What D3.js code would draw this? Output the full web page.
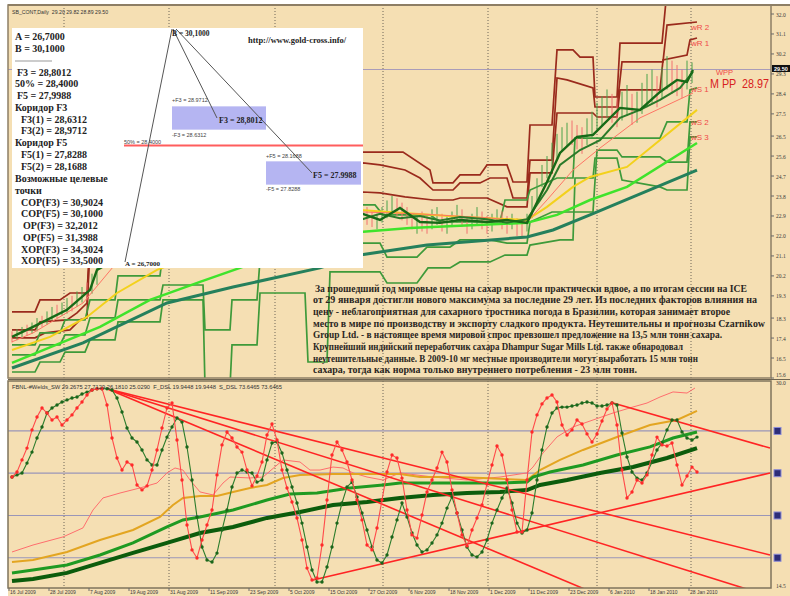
<!DOCTYPE html>
<html><head><meta charset="utf-8">
<script src="https://cdn.jsdelivr.net/npm/d3@7"></script>
<style>body{margin:0;background:#fff;} svg{display:block;} text{white-space:pre;}</style>
</head><body>
<svg id="c" width="790" height="596"></svg>
<script>
// ---------------- DATA ----------------
const topTicks = [32.0,31.1,30.2,29.3,28.4,27.5,26.5,25.6,24.7,23.8,22.9,22.0,21.1,20.2,19.3,18.3,17.4,16.5,15.6];
const lastClose = 29.50;
const dateTicks = [[0,"16 Jul 2009"],[8,"28 Jul 2009"],[16,"7 Aug 2009"],[24,"19 Aug 2009"],[32,"31 Aug 2009"],[40,"11 Sep 2009"],[48,"23 Sep 2009"],[56,"5 Oct 2009"],[64,"15 Oct 2009"],[72,"27 Oct 2009"],[80,"6 Nov 2009"],[88,"18 Nov 2009"],[96,"1 Dec 2009"],[104,"11 Dec 2009"],[112,"23 Dec 2009"],[120,"6 Jan 2010"],[128,"18 Jan 2010"],[136,"28 Jan 2010"]];
const gridBars = [10.4,31.4,52.6,74.2,95.2,117,135.8];

// top panel moving averages [bar, price]
const maTeal = [[0,16.05],[14.2,17.18],[31,18.98],[44.2,19.70],[61.6,20.56],[69.6,21.14],[83,21.59],[103,21.95],[108.2,22.27],[115.6,22.95],[137,24.97]];
const maLime = [[0,16.28],[17.6,17.90],[27.6,19.12],[37.6,19.93],[45.6,20.56],[57.6,21.59],[69.6,22.18],[79.6,22.36],[103,22.59],[109,22.95],[115.6,23.62],[123,24.21],[137,26.19]];
const maYellow = [[0,16.86],[7.6,17.45],[15,18.35],[21,19.43],[29,20.47],[47.6,22.05],[69.6,23.17],[77.6,23.04],[89.6,22.86],[103,22.72],[107,23.31],[112.2,24.21],[115.6,24.66],[123,25.11],[137,27.68]];
const maThinRed = [[0,17.23],[4.2,17.63],[14.2,18.98],[20.2,20.60],[37.6,22.05],[70.2,23.08],[81.6,22.99],[95.6,22.81],[103,22.63],[107,23.62],[112.2,24.97],[117.6,25.96],[125.6,27.32],[136.2,28.44]];
const priceLine = [[0,17.45],[4.2,17.90],[11,18.67],[15.6,19.57],[17,20.47],[27.6,21.82],[47.6,22.72],[61.6,22.95],[69.6,23.04],[73.6,22.72],[77.6,23.26],[81.6,22.63],[85.6,22.59],[89.6,22.72],[95,22.63],[99,22.72],[103,22.59],[107,24.43],[109.6,25.74],[113,26.46],[116.2,26.55],[121.6,27.77],[125.6,27.68],[129.6,28.49],[133,29.03],[135,28.94],[136.2,29.48]];
const priceLine2 = [[69.6,22.72],[73.6,23.0],[77.6,22.8],[81.6,22.9],[85.6,22.7],[89.6,22.85],[95,22.75],[99,22.6],[103,22.75],[107,24.07],[109.6,25.2],[113.6,25.87],[117.6,26.32],[121.6,27.32],[125.6,27.68],[129.6,28.13],[133.6,28.67],[136.2,29.39]];

// weekly pivot step lines [bar, price]
const maroonR3 = [[0,18.58],[4.6,18.58],[5.6,19.12],[9.6,19.12],[11.6,19.43],[15,19.43],[15.4,21.0],[30,22.2],[50,23.5],[70.2,25.78],[78.2,25.78],[83.6,24.97],[84.2,24.39],[88.2,24.39],[89.6,24.75],[93.6,24.75],[95,25.20],[99,25.20],[100.2,24.43],[103,24.43],[103.6,27.00],[108,27.00],[109,30.38],[112.2,30.38],[113.6,30.06],[116.2,30.06],[116.6,28.26],[121,28.26],[121.6,30.69],[130,30.69],[130.8,32.6],[137,32.7]];
const maroonR2 = [[0,17.77],[4.6,17.77],[5.6,18.13],[11,18.22],[13,18.53],[15,18.98],[15.4,20.8],[30,21.8],[50,22.9],[70.2,25.29],[73.6,25.20],[78.6,24.97],[81.6,24.61],[84.2,24.07],[88.2,24.07],[89.6,24.39],[93.6,24.39],[95.6,24.61],[99,24.61],[100.2,23.71],[103,23.71],[103.6,25.42],[108,25.42],[109,29.12],[111,29.03],[116.2,28.67],[116.6,27.81],[121,27.81],[122,29.84],[130.2,29.84],[131,31.50],[137,31.64]];
const maroonR1 = [[0,17.41],[4.6,17.41],[6.6,17.63],[11.6,17.77],[13.6,18.22],[15,18.31],[15.4,20.7],[30,21.5],[50,22.6],[70.2,23.98],[73.6,23.94],[78.6,23.76],[84.2,23.62],[88.2,23.62],[89.6,23.71],[95,23.71],[99,23.31],[103,23.31],[103.6,24.84],[108,24.84],[109,27.54],[116.2,27.54],[117,27.36],[121,27.36],[121.6,28.58],[129.6,28.58],[130.2,29.93],[135,30.15],[135.6,30.83],[137,30.92]];
const greenS1 = [[0,17.09],[4.6,17.09],[5.6,17.63],[9.6,17.63],[10.6,18.22],[14.6,18.22],[15.6,19.12],[20.6,19.12],[21.2,20.20],[29.6,20.20],[30.2,21.3],[50,22.4],[70.2,23.40],[72.6,23.40],[74.2,22.95],[83.6,22.95],[85.6,22.63],[97.6,22.63],[98.6,23.62],[103,23.62],[103.6,24.07],[109,24.61],[112.2,24.61],[112.6,26.41],[129.6,26.41],[131,27.14],[135,27.14],[135.6,28.58],[137,28.67]];
const greenS2 = [[0,16.64],[4.6,16.64],[5.6,17.09],[9.6,17.09],[10.6,17.54],[14.6,17.54],[15.6,18.31],[20.6,18.31],[21.2,19.12],[29.6,19.12],[30.2,19.79],[38.2,19.79],[38.6,17.77],[43.6,17.77],[44,19.12],[49,19.12],[49.6,20.9],[63,21.2],[70.2,21.68],[73.6,21.68],[75,21.05],[81,21.05],[83,21.50],[87.6,21.50],[89.6,21.82],[95.6,21.82],[99,21.68],[103,21.68],[103.6,22.63],[108,23.08],[116.2,23.08],[117,25.87],[121,25.87],[122,25.56],[129.6,25.56],[131,25.33],[135,25.33],[135.6,27.14],[137,27.14]];
const greenS3 = [[0,15.87],[4.6,15.87],[5.6,16.32],[9.6,16.32],[10.6,16.77],[14.6,16.77],[15.6,17.32],[20.6,17.32],[21.2,18.13],[29.6,18.13],[30.2,19.12],[38.2,19.12],[38.6,15.2],[43.6,15.2],[44,17.09],[49,17.09],[49.6,19.43],[58.6,19.43],[59.2,16.32],[63,16.32],[63.6,20.38],[73.6,20.38],[75,19.88],[81,19.88],[83.2,20.56],[87.6,20.56],[89.6,20.83],[95.6,20.83],[98.6,21.14],[103,21.14],[103.6,21.59],[109.6,21.82],[112.2,21.82],[112.6,24.61],[116.2,24.61],[116.6,25.51],[121,25.51],[122,24.52],[129.6,24.21],[131,24.07],[135,24.07],[135.6,26.46],[137,26.46]];
const pivotLabels = [["wR 2",31.4],["wR 1",30.7],["wS 1",28.6],["wS 2",27.14],["wS 3",26.46]];
const pivotPP = 28.97;

// price bars [bar, high, low, up]
const barsLeft = [[0,17.7,17.2,0],[1,17.8,17.3,1],[2,17.9,17.4,1],[3,18.0,17.5,0],[4,18.1,17.6,1],[5,18.3,17.7,1],[6,18.4,17.9,0],[7,18.6,18.0,1],[8,18.8,18.2,1],[9,18.9,18.3,0],[10,19.0,18.4,1],[11,19.2,18.5,1],[12,19.3,18.6,0],[13,19.5,18.8,1],[14,19.7,19.0,1],[15,19.9,19.1,0],[16,20.3,19.4,1],[17,20.6,19.8,1]];
const barsRight = [[71,23.3,22.5,0],[72,23.1,22.4,0],[73,23.0,22.3,1],[74,23.3,22.6,1],[75,23.6,22.8,1],[76,23.8,23.0,1],[77,23.7,22.9,0],[78,23.5,22.7,0],[79,23.3,22.5,0],[80,23.0,22.3,0],[81,22.9,22.1,1],[82,23.1,22.2,0],[83,22.9,22.1,0],[84,23.2,22.3,1],[85,23.3,22.5,1],[86,23.0,22.2,0],[87,22.9,22.1,1],[88,23.1,22.4,1],[89,23.4,22.6,1],[90,23.2,22.4,0],[91,22.9,22.1,0],[92,23.0,22.3,1],[93,23.3,22.5,1],[94,23.1,22.3,0],[95,22.9,22.1,0],[96,23.0,22.2,1],[97,23.2,22.5,1],[98,23.1,22.3,0],[99,22.9,22.1,0],[100,23.0,22.3,1],[101,22.8,22.0,0],[102,22.7,21.9,0],[103,23.0,22.2,1],[104,23.8,22.8,1],[105,24.6,23.5,1],[106,25.2,24.2,1],[107,25.6,24.6,1],[108,26.2,25.1,1],[109,26.6,25.5,1],[110,26.9,25.8,1],[111,27.1,26.0,1],[112,27.2,26.1,0],[113,27.0,25.9,0],[114,26.9,25.7,0],[115,27.3,26.1,1],[116,27.6,26.4,1],[117,28.0,26.7,1],[118,28.3,27.0,1],[119,28.6,27.3,1],[120,28.4,27.1,0],[121,28.2,26.9,0],[122,28.5,27.2,1],[123,28.8,27.4,1],[124,28.4,27.0,0],[125,28.5,27.1,1],[126,28.9,27.5,1],[127,29.3,27.8,1],[128,29.5,28.0,1],[129,29.2,27.8,0],[130,29.6,28.2,1],[131,30.1,28.6,1],[132,29.9,28.4,0],[133,29.7,28.3,0],[134,29.5,28.2,0],[135,29.9,28.6,1],[136,29.82,28.89,1]];

// bottom panel: oscillators (one value per bar, 0..100)
const oscFast = [58.2,60.6,66.3,71.9,80.5,86.6,90.9,88.5,85.2,86.6,
82.8,85.2,87.6,90.9,93.7,97.0,99.4,100,100,92.3,
76.7,67.2,61.5,65.3,63.9,54.4,52.1,54.0,61.5,71.0,
81.4,90.9,93.2,75.7,56.8,35.5,23.7,19.9,28.4,35.5,
42.6,59.2,73.4,79.5,76.7,72.4,70.0,61.5,54.0,58.7,
65.3,78.1,83.3,75.7,61.5,53.0,46.4,38.8,28.4,15.1,
9.5,10.4,26.0,47.3,68.6,74.8,71.0,65.3,56.8,47.3,
37.9,26.0,23.7,34.1,47.3,60.6,68.6,67.2,57.7,42.6,
30.8,29.3,40.2,51.1,56.8,62.5,70.0,65.3,52.1,41.2,
30.8,25.6,33.1,38.8,45.0,54.9,63.9,72.9,68.6,56.8,
42.6,32.2,32.2,56.8,79.5,87.6,92.8,95.6,97.0,93.7,
82.8,78.1,80.5,85.2,83.3,78.6,74.8,78.6,84.7,90.4,
93.2,82.8,61.5,48.3,51.1,56.8,55.4,59.2,68.6,77.1,
73.4,72.9,74.3,63.9,54.4,58.7,62.9,60.6];
const oscSlow = [58.2,59.2,60.1,64.8,70.0,76.7,81.9,88.5,90.9,92.3,
93.7,94.7,95.6,96.1,97.5,98.4,99.4,100,100,100,
99.4,95.6,89.0,81.4,76.7,74.8,71.0,66.3,63.9,63.9,
71.0,77.1,81.9,86.1,84.2,72.4,56.8,39.3,25.1,18.9,
18.0,22.2,33.1,42.6,53.5,60.1,61.5,60.6,60.1,55.8,
56.8,66.3,74.3,74.8,69.6,61.5,53.5,45.9,36.4,25.1,
14.2,8.5,8.5,15.6,25.1,36.4,45.9,53.5,55.8,48.8,
41.2,33.1,25.1,18.9,17.5,21.3,29.8,37.9,45.9,39.3,
31.7,26.0,22.7,23.7,27.0,30.8,36.4,43.5,48.8,41.2,
33.1,25.1,21.3,20.4,22.7,28.4,36.4,42.6,48.3,53.0,
45.9,36.4,31.7,33.1,41.2,56.8,71.0,81.9,88.5,90.9,
91.3,91.3,91.8,92.3,93.2,93.7,93.2,91.8,91.8,92.3,
93.2,92.3,79.0,67.7,60.6,57.7,56.8,60.1,65.3,71.0,
74.3,80.5,85.2,85.2,79.5,76.7,75.7,77.1];
const oscLevels = [80,60,40,20];
// trend lines [bar1, osc1, bar2, osc2]
const trendLines = [[19,100,151.6,21.3],[19,100,147.6,4.7],[19,100,115,4.7],[60.2,9.5,151.6,60.1],[120.2,93.2,151.6,71.9]];
// bottom panel moving averages [bar, price]
const botThinRed = [[0,17.28],[4.2,17.79],[10.2,18.38],[14.2,19.04],[16.2,20.35],[18.2,21.23],[21.6,21.59],[25.6,21.96],[29,22.32],[31,23.06],[32.6,23.42],[34.2,23.27],[35.6,22.54],[37.6,21.67],[40.2,21.45],[42.2,22.32],[43.6,22.76],[47.6,22.69],[50.2,22.76],[54.2,24.01],[57.6,23.86],[59.6,23.27],[61.6,23.27],[64.2,23.49],[66.2,23.42],[68.2,23.06],[71,22.76],[74.2,22.54],[77.6,23.06],[84.2,22.76],[91,22.54],[97.6,22.76],[103,23.06],[104.2,23.49],[106.2,24.52],[109,25.69],[112.2,26.42],[116.2,26.93],[120.2,27.44],[124.2,27.88],[127,28.17],[129.6,28.61],[132.2,28.98],[135,28.90],[136.6,29.27]];
const botOrange = [[0,16.55],[4.2,16.70],[11,17.28],[17.6,18.16],[24.2,18.89],[29.6,19.84],[32.2,20.72],[34.2,21.23],[37.6,21.37],[41,21.37],[44.2,21.67],[47.6,21.96],[51,22.18],[54.2,22.69],[57.6,22.91],[64.2,22.98],[71,22.98],[77.6,22.98],[81.6,22.76],[87.6,22.76],[94.2,22.69],[103,22.54],[105.6,23.27],[109.6,24.01],[114.2,24.74],[121,25.69],[127.6,26.56],[133,26.93],[137,27.59]];
const botGreen = [[0,15.75],[4.2,15.96],[11,16.33],[17.6,17.06],[24.2,17.94],[31,19.11],[34.2,19.62],[37.6,19.84],[44.2,20.35],[51,21.08],[55.6,21.52],[61,21.59],[67.6,21.96],[74.2,22.18],[77.6,22.32],[84.2,22.32],[91,22.32],[97.6,22.32],[103,22.40],[104.2,22.76],[107.6,23.13],[114.2,23.64],[121,24.37],[127.6,24.96],[132.2,25.61],[137,26.05]];
const botDark = [[0,15.16],[4.2,15.31],[11,15.75],[17.6,16.48],[24.2,17.21],[31,17.94],[37.6,18.67],[44.2,19.11],[51,19.77],[57.6,20.20],[64.2,20.72],[71,20.94],[77.6,21.23],[84.2,21.45],[91,21.59],[97.6,21.67],[103,21.81],[105.6,22.18],[111,22.54],[117.6,23.06],[124.2,23.49],[131,24.15],[137,24.88]];
const botTicks = [30.0,14.5];

// Fibonacci overlay
const fibA = 26.7, fibB = 30.1;
const fibF3 = 28.8012, fibF5 = 27.9988, fib50 = 28.4;
const fibF3c = [28.6312, 28.9712], fibF5c = [27.8288, 28.1688];
const fibTextLines = ["A = 26,7000","B = 30,1000","","F3 = 28,8012","50% = 28,4000","F5 = 27,9988","Коридор F3","F3(1) = 28,6312","F3(2) = 28,9712","Коридор F5","F5(1) = 27,8288","F5(2) = 28,1688","Возможные целевые","точки","COP(F3) = 30,9024","COP(F5) = 30,1000","OP(F3) = 32,2012","OP(F5) = 31,3988","XOP(F3) = 34,3024","XOP(F5) = 33,5000"];
const newsLines = [
"За прошедший год мировые цены на сахар выросли практически вдвое, а по итогам сессии на ICE",
"от 29 января достигли нового максимума за последние 29 лет. Из последних факторов влияния на",
"цену - неблагоприятная для сахарного тростника погода в Бразилии, которая занимает второе",
"место в мире по производству и экспорту сладкого продукта. Неутешительны и прогнозы Czarnikow",
"Group Ltd. - в настоящее время мировой спрос превзошел предложение на 13,5 млн тонн сахара.",
"Крупнейший индийский переработчик сахара Dhampur Sugar Mills Ltd. также обнародовал",
"неутешительные данные. В 2009-10 мг местные производители могут выработать 15 млн тонн",
"сахара, тогда как норма только внутреннего потребления - 23 млн тонн."];

// ---------------- LAYOUT ----------------
const PL=8, PR=771, TT=5, TB=378, BT=381, BB=588;
const x = d3.scaleLinear().domain([0,151.6]).range([12,770]);
const yTop = d3.scaleLinear().domain([15.6,32.0]).range([378,14]);
const yBot = d3.scaleLinear().domain([14.5,30.0]).range([590,378]);
const yOsc = d3.scaleLinear().domain([0,100]).range([600,388.7]);
const yFib = d3.scaleLinear().domain([fibA,fibB]).range([262,29]);

const svg = d3.select("#c");
const defs = svg.append("defs");
defs.append("clipPath").attr("id","ct").append("rect").attr("x",PL).attr("y",TT).attr("width",PR-PL).attr("height",TB-TT);
defs.append("clipPath").attr("id","cb").append("rect").attr("x",PL).attr("y",BT).attr("width",PR-PL).attr("height",BB-BT);

svg.append("rect").attr("x",PL).attr("y",TT).attr("width",790-PL).attr("height",596-TT).attr("fill","#f5dfb3");

const SANS = "'Liberation Sans', Arial, sans-serif";
const SERIF = "'Liberation Serif', 'Times New Roman', serif";

// ---------- TOP PANEL ----------
const gt = svg.append("g").attr("clip-path","url(#ct)");
gt.selectAll(".vg").data(gridBars).join("line")
  .attr("x1",d=>x(d)).attr("x2",d=>x(d)).attr("y1",TT).attr("y2",TB)
  .attr("stroke","#6e6658").attr("stroke-width",1).attr("stroke-dasharray","1,2");
gt.append("line").attr("x1",PL).attr("x2",PR).attr("y1",yTop(lastClose)).attr("y2",yTop(lastClose))
  .attr("stroke","#a99cb8").attr("stroke-width",1.2);

const lt = d3.line().x(d=>x(d[0])).y(d=>yTop(d[1]));
[maroonR3,maroonR2,maroonR1].forEach(s=>gt.append("path").attr("d",lt(s)).attr("fill","none").attr("stroke","#9a2a1c").attr("stroke-width",1.7));
[greenS1,greenS2,greenS3].forEach(s=>gt.append("path").attr("d",lt(s)).attr("fill","none").attr("stroke","#3e9a3a").attr("stroke-width",1.7));

const allBars = barsLeft.concat(barsRight);
gt.selectAll(".bar").data(allBars).join("line")
  .attr("x1",d=>x(d[0])).attr("x2",d=>x(d[0])).attr("y1",d=>yTop(d[1])).attr("y2",d=>yTop(d[2]))
  .attr("stroke",d=>d[3]?"#4aa24a":"#f27070").attr("stroke-width",1);

gt.append("path").attr("d",lt(maTeal)).attr("fill","none").attr("stroke","#25805c").attr("stroke-width",3);
gt.append("path").attr("d",lt(maLime)).attr("fill","none").attr("stroke","#3fe32c").attr("stroke-width",2.5);
gt.append("path").attr("d",lt(maYellow)).attr("fill","none").attr("stroke","#f3d11c").attr("stroke-width",2);
gt.append("path").attr("d",lt(maThinRed)).attr("fill","none").attr("stroke","#ff7565").attr("stroke-width",1);
gt.append("path").attr("d",lt(priceLine2)).attr("fill","none").attr("stroke","#2a7a2a").attr("stroke-width",2);
gt.append("path").attr("d",lt(priceLine)).attr("fill","none").attr("stroke","#176a17").attr("stroke-width",2.4);

// pivot labels
svg.selectAll(".pl").data(pivotLabels).join("text")
  .attr("x",691).attr("y",d=>yTop(d[1])+3).text(d=>d[0])
  .attr("font-family",SANS).attr("font-size",8).attr("fill","#f04848");
svg.append("text").attr("x",716).attr("y",yTop(pivotPP)-6).text("WPP")
  .attr("font-family",SANS).attr("font-size",7.5).attr("fill","#f04848");
svg.append("text").attr("x",710).attr("y",yTop(pivotPP)+7).text("M PP  "+pivotPP.toFixed(2))
  .attr("font-family",SANS).attr("font-size",12).attr("fill","#d82020")
  .attr("textLength",59).attr("lengthAdjust","spacingAndGlyphs");

// ---------- BOTTOM PANEL ----------
const gb = svg.append("g").attr("clip-path","url(#cb)");
gb.selectAll(".lv").data(oscLevels).join("line")
  .attr("x1",PL).attr("x2",PR).attr("y1",d=>yOsc(d)).attr("y2",d=>yOsc(d))
  .attr("stroke","#9a96b8").attr("stroke-width",1.2);
gb.selectAll(".vg").data(gridBars).join("line")
  .attr("x1",d=>x(d)).attr("x2",d=>x(d)).attr("y1",BT).attr("y2",BB)
  .attr("stroke","#6e6658").attr("stroke-width",1).attr("stroke-dasharray","1,2");
const lb = d3.line().x(d=>x(d[0])).y(d=>yBot(d[1]));
gb.append("path").attr("d",lb(botThinRed)).attr("fill","none").attr("stroke","#ff6e6e").attr("stroke-width",1);
gb.append("path").attr("d",lb(botOrange)).attr("fill","none").attr("stroke","#e3a521").attr("stroke-width",2);
gb.append("path").attr("d",lb(botGreen)).attr("fill","none").attr("stroke","#1f9a22").attr("stroke-width",3);
gb.append("path").attr("d",lb(botDark)).attr("fill","none").attr("stroke","#0c5c0c").attr("stroke-width",4);
gb.selectAll(".tl").data(trendLines).join("line")
  .attr("x1",d=>x(d[0])).attr("y1",d=>yOsc(d[1])).attr("x2",d=>x(d[2])).attr("y2",d=>yOsc(d[3]))
  .attr("stroke","#ff2424").attr("stroke-width",1.6);
const lo = d3.line().x((d,i)=>x(i)).y(d=>yOsc(d));
gb.append("path").attr("d",lo(oscSlow)).attr("fill","none").attr("stroke","#2c7c2c").attr("stroke-width",1.1);
gb.selectAll(".ds").data(oscSlow).join("circle").attr("cx",(d,i)=>x(i)).attr("cy",d=>yOsc(d)).attr("r",1.7).attr("fill","#1b661b");
gb.append("path").attr("d",lo(oscFast)).attr("fill","none").attr("stroke","#ff4a4a").attr("stroke-width",1.1);
gb.selectAll(".df").data(oscFast).join("circle").attr("cx",(d,i)=>x(i)).attr("cy",d=>yOsc(d)).attr("r",1.7).attr("fill","#ff2a2a");

// ---------- FRAMES & AXES ----------
svg.append("line").attr("x1",PL).attr("x2",790).attr("y1",TT).attr("y2",TT).attr("stroke","#8d7f66").attr("stroke-width",2);
svg.append("rect").attr("x",PL).attr("y",TT).attr("width",PR-PL).attr("height",TB-TT).attr("fill","none").attr("stroke","#8d7f66").attr("stroke-width",1.5);
svg.append("rect").attr("x",PL).attr("y",BT).attr("width",PR-PL).attr("height",BB-BT).attr("fill","none").attr("stroke","#7f745c").attr("stroke-width",1.5);
svg.append("line").attr("x1",PL).attr("x2",790).attr("y1",379.5).attr("y2",379.5).attr("stroke","#6e6450").attr("stroke-width",1);

const nT = topTicks.length;
svg.selectAll(".tt").data(topTicks).join("text")
  .attr("x",776).attr("y",(d,i)=>yTop(d)+(i===nT-1?-1.5:2.5)).text(d=>d.toFixed(1))
  .attr("font-family",SERIF).attr("font-size",5.5).attr("fill","#3a3a3a");
svg.selectAll(".tk").data(topTicks).join("line")
  .attr("x1",PR).attr("x2",PR+3).attr("y1",d=>yTop(d)).attr("y2",d=>yTop(d)).attr("stroke","#6a6a6a");
svg.append("rect").attr("x",772).attr("y",yTop(lastClose)-4.5).attr("width",18).attr("height",7).attr("fill","#111");
svg.append("text").attr("x",774).attr("y",yTop(lastClose)+1.5).text(lastClose.toFixed(2))
  .attr("font-family",SANS).attr("font-size",5.5).attr("font-weight","bold").attr("fill","#fff");
svg.selectAll(".bt").data(botTicks).join("text")
  .attr("x",776).attr("y",(d,i)=>yBot(d)+(i===0?7:-2)).text(d=>d.toFixed(1))
  .attr("font-family",SERIF).attr("font-size",5.5).attr("fill","#3a3a3a");
svg.selectAll(".sq").data(oscLevels).join("rect")
  .attr("x",774).attr("y",d=>yOsc(d)-3.5).attr("width",7).attr("height",7)
  .attr("fill","#2d2d78").attr("stroke","#8c8cd8").attr("stroke-width",1);

svg.selectAll(".dt").data(dateTicks).join("text")
  .attr("x",d=>x(d[0])-2).attr("y",594).text(d=>d[1])
  .attr("font-family",SANS).attr("font-size",5).attr("fill","#3a3a3a");
svg.selectAll(".dk").data(dateTicks).join("line")
  .attr("x1",d=>x(d[0])-3).attr("x2",d=>x(d[0])-3).attr("y1",BB).attr("y2",BB+3).attr("stroke","#6a6a6a");

svg.append("text").attr("x",12).attr("y",14).text("SB_CONT,Daily  29.20 29.82 28.89 29.50")
  .attr("font-family",SANS).attr("font-size",5.2).attr("fill","#333");
svg.append("text").attr("x",12).attr("y",389).text("FBNL-#Welds_SW 29.2675 27.7129 26.1810 25.0290  F_DSL 19.9448 19.9448  S_DSL 73.6465 73.6465")
  .attr("font-family",SANS).attr("font-size",5).attr("fill","#333").attr("textLength",270).attr("lengthAdjust","spacingAndGlyphs");

// ---------- FIB OVERLAY ----------
const go = svg.append("g");
go.append("rect").attr("x",12).attr("y",28).attr("width",351).attr("height",240).attr("fill","#ffffff");
go.append("rect").attr("x",172).attr("width",94).attr("y",yFib(fibF3c[1])).attr("height",yFib(fibF3c[0])-yFib(fibF3c[1])).attr("fill","#b5b5f2");
go.append("rect").attr("x",266).attr("width",95).attr("y",yFib(fibF5c[1])).attr("height",yFib(fibF5c[0])-yFib(fibF5c[1])).attr("fill","#b5b5f2");
go.append("line").attr("x1",124).attr("x2",363).attr("y1",yFib(fib50)).attr("y2",yFib(fib50)).attr("stroke","#ff5d5d").attr("stroke-width",2);
go.append("line").attr("x1",125).attr("y1",yFib(fibA)).attr("x2",172).attr("y2",yFib(fibB)).attr("stroke","#555").attr("stroke-width",1);
go.append("line").attr("x1",173).attr("y1",yFib(fibB)).attr("x2",217).attr("y2",yFib(fibF3)).attr("stroke","#555").attr("stroke-width",1);
go.append("line").attr("x1",176).attr("y1",yFib(fibB)).attr("x2",312).attr("y2",yFib(fibF5)).attr("stroke","#555").attr("stroke-width",1);

const smallLbl = (t,xx,yy)=>go.append("text").attr("x",xx).attr("y",yy).text(t).attr("font-family",SANS).attr("font-size",5.5).attr("fill","#444");
smallLbl("+F3 = "+fibF3c[1].toFixed(4),172,yFib(fibF3c[1])-4);
smallLbl("-F3 = "+fibF3c[0].toFixed(4),172,yFib(fibF3c[0])+7);
smallLbl("50% = "+fib50.toFixed(4),124,yFib(fib50)-2);
smallLbl("+F5 = "+fibF5c[1].toFixed(4),266,yFib(fibF5c[1])-3);
smallLbl("-F5 = "+fibF5c[0].toFixed(4),266,yFib(fibF5c[0])+6);
const boldLbl = (t,xx,yy,fs)=>go.append("text").attr("x",xx).attr("y",yy).text(t).attr("font-family",SERIF).attr("font-weight","bold").attr("font-size",fs).attr("fill","#222");
boldLbl("F3 = 28,8012",219,yFib(fibF3)+5,8);
boldLbl("F5 = 27.9988",313,yFib(fibF5)+5,8);
boldLbl("B = 30,1000",172,yFib(fibB)+7,7.5);
boldLbl("A = 26,7000",125,yFib(fibA)+4,7);
boldLbl("http://www.gold-cross.info/",248,43,8.5);

const leftX = [15,15,0,17,15,17,15,21,21,15,21,21,15,15,21,21,23,23,21,21];
const leftY = [40,52,0,76,87,99,111,123,134,146,158,170,182,194,206,217,229,241,253,264];
fibTextLines.forEach((t,i)=>{ if(t) boldLbl(t,leftX[i],leftY[i],10); });
go.append("line").attr("x1",15).attr("x2",52).attr("y1",61).attr("y2",61).attr("stroke","#999").attr("stroke-width",1);

// ---------- NEWS TEXT ----------
const newsW = [432,444,417,452,409,370,385,324];
newsLines.forEach((t,i)=>{
  svg.append("text").attr("x",i===0?315:313).attr("y",291.5+i*11.7).text(t)
    .attr("font-family",SERIF).attr("font-weight","bold").attr("font-size",10).attr("fill","#2a2622")
    .attr("textLength",newsW[i]).attr("lengthAdjust","spacingAndGlyphs");
});
</script>
</body></html>
